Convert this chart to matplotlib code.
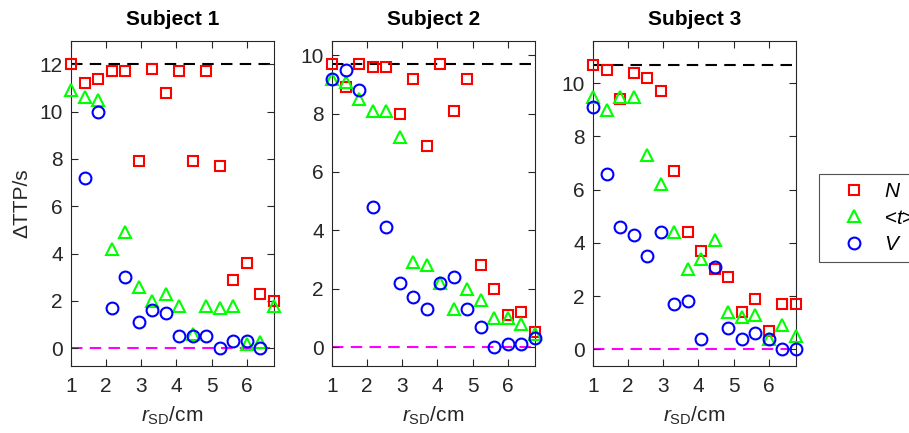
# recreate the three-panel TTP difference scatter plot
import numpy as np
import matplotlib
matplotlib.use('Agg')
import matplotlib.pyplot as plt

plt.rcParams['font.family'] = ['Liberation Sans', 'DejaVu Sans']
plt.rcParams['mathtext.fontset'] = 'custom'
plt.rcParams['mathtext.rm'] = 'Liberation Sans'
plt.rcParams['mathtext.it'] = 'Liberation Sans:italic'

# source-detector distances (cm), same for every subject
r_sd = [1.0, 1.385, 1.77, 2.155, 2.54, 2.925, 3.31, 3.695,
        4.08, 4.465, 4.85, 5.235, 5.62, 6.005, 6.39, 6.775]

titles = ['Subject 1', 'Subject 2', 'Subject 3']

# delta TTP for the N moment
n_s1 = [12.0, 11.2, 11.4, 11.7, 11.7, 7.9, 11.8, 10.8, 11.7, 7.9, 11.7, 7.7, 2.9, 3.6, 2.3, 2.0]
n_s2 = [9.7, 8.9, 9.7, 9.6, 9.6, 8.0, 9.2, 6.9, 9.7, 8.1, 9.2, 2.8, 2.0, 1.1, 1.2, 0.5]
n_s3 = [10.7, 10.5, 9.4, 10.4, 10.2, 9.7, 6.7, 4.4, 3.7, 3.0, 2.7, 1.4, 1.9, 0.7, 1.7, 1.7]

# delta TTP for the mean time of flight <t>
t_s1 = [10.9, 10.6, 10.5, 4.2, 4.9, 2.6, 2.0, 2.3, 1.8, 0.6, 1.8, 1.7, 1.8, 0.2, 0.25, 1.8]
t_s2 = [9.2, 9.1, 8.5, 8.1, 8.1, 7.2, 2.9, 2.8, 2.2, 1.3, 2.0, 1.6, 1.0, 1.0, 0.8, 0.45]
t_s3 = [9.5, 9.0, 9.5, 9.5, 7.3, 6.2, 4.4, 3.0, 3.4, 4.1, 1.4, 1.2, 1.3, 0.4, 0.9, 0.5]

# delta TTP for the variance V (nan = not shown)
v_s1 = [np.nan, 7.2, 10.0, 1.7, 3.0, 1.1, 1.6, 1.5, 0.5, 0.5, 0.5, 0.0, 0.3, 0.3, 0.0, np.nan]
v_s2 = [9.2, 9.5, 8.8, 4.8, 4.1, 2.2, 1.7, 1.3, 2.2, 2.4, 1.3, 0.7, 0.0, 0.1, 0.1, 0.3]
v_s3 = [9.1, 6.6, 4.6, 4.3, 3.5, 4.4, 1.7, 1.8, 0.4, 3.1, 0.8, 0.4, 0.6, 0.4, 0.0, 0.0]

# reference levels (dashed lines)
ref_top = [12.0, 9.7, 10.7]
ref_zero = [0.0, 0.0, 0.0]

y_limits = [(-0.75, 13.0), (-0.65, 10.5), (-0.63, 11.6)]
y_ticks = [[0, 2, 4, 6, 8, 10, 12], [0, 2, 4, 6, 8, 10], [0, 2, 4, 6, 8, 10]]

DARK = '#262626'


def draw_panel(ax, n_vals, t_vals, v_vals, top, zero, title):
    ax.plot([r_sd[0], r_sd[-1]], [top, top], color='k', lw=1.5, dashes=(5.5, 3.5), zorder=1)
    ax.plot([r_sd[0], r_sd[-1]], [zero, zero], color='#ff00ff', lw=1.5, dashes=(5.5, 3.5), zorder=1)
    ax.plot(r_sd, n_vals, 's', ms=6.5, mfc='none', mec='#ff0000', mew=1.5,
            label=r'$\mathit{N}$', clip_on=False, zorder=3)
    ax.plot(r_sd, t_vals, '^', ms=9, mfc='none', mec='#00ff00', mew=1.5,
            label=r'<$\mathit{t}$>', clip_on=False, zorder=3)
    ax.plot(r_sd, v_vals, 'o', ms=8.5, mfc='none', mec='#0000ff', mew=1.5,
            label=r'$\mathit{V}$', clip_on=False, zorder=3)
    ax.set_title(title, fontsize=15, fontweight='bold', pad=11)
    ax.set_xlim(r_sd[0], r_sd[-1])
    ax.set_xticks([1, 2, 3, 4, 5, 6])
    ax.set_xlabel(r'$\mathit{r}_{\mathrm{SD}}$/cm', fontsize=15, color=DARK, labelpad=6)
    ax.tick_params(direction='in', top=True, right=True, length=5,
                   labelsize=15, colors=DARK, width=0.8)
    ax.tick_params(axis='x', pad=8)
    ax.tick_params(axis='y', pad=6)
    for s in ax.spines.values():
        s.set_color(DARK)
        s.set_linewidth(0.8)


fig = plt.figure(figsize=(9.09, 4.33), dpi=100)
lefts = [71 / 909, 332 / 909, 593 / 909]
width = 203 / 909
bottom = 1 - 366 / 433
height = (366 - 40.7) / 433

n_all = [n_s1, n_s2, n_s3]
t_all = [t_s1, t_s2, t_s3]
v_all = [v_s1, v_s2, v_s3]

axes = []
for i in range(3):
    ax = fig.add_axes([lefts[i], bottom, width, height])
    draw_panel(ax, n_all[i], t_all[i], v_all[i], ref_top[i], ref_zero[i], titles[i])
    ax.set_ylim(*y_limits[i])
    ax.set_yticks(y_ticks[i])
    axes.append(ax)

axes[0].set_ylabel('\u0394TTP/s', fontsize=15, color=DARK, labelpad=6)

# legend sits at the right edge and runs off the figure, like the original
handles, labels = axes[0].get_legend_handles_labels()
leg = fig.legend(handles, labels, loc='upper left',
                 bbox_to_anchor=(819 / 909, 1 - 174 / 433),
                 fontsize=15, frameon=True, fancybox=False, borderaxespad=0,
                 handletextpad=0.1, labelspacing=0.35, borderpad=0.4, handlelength=2.6)
leg.get_frame().set_edgecolor(DARK)
leg.get_frame().set_linewidth(0.8)

fig.savefig('out.png', dpi=100)
